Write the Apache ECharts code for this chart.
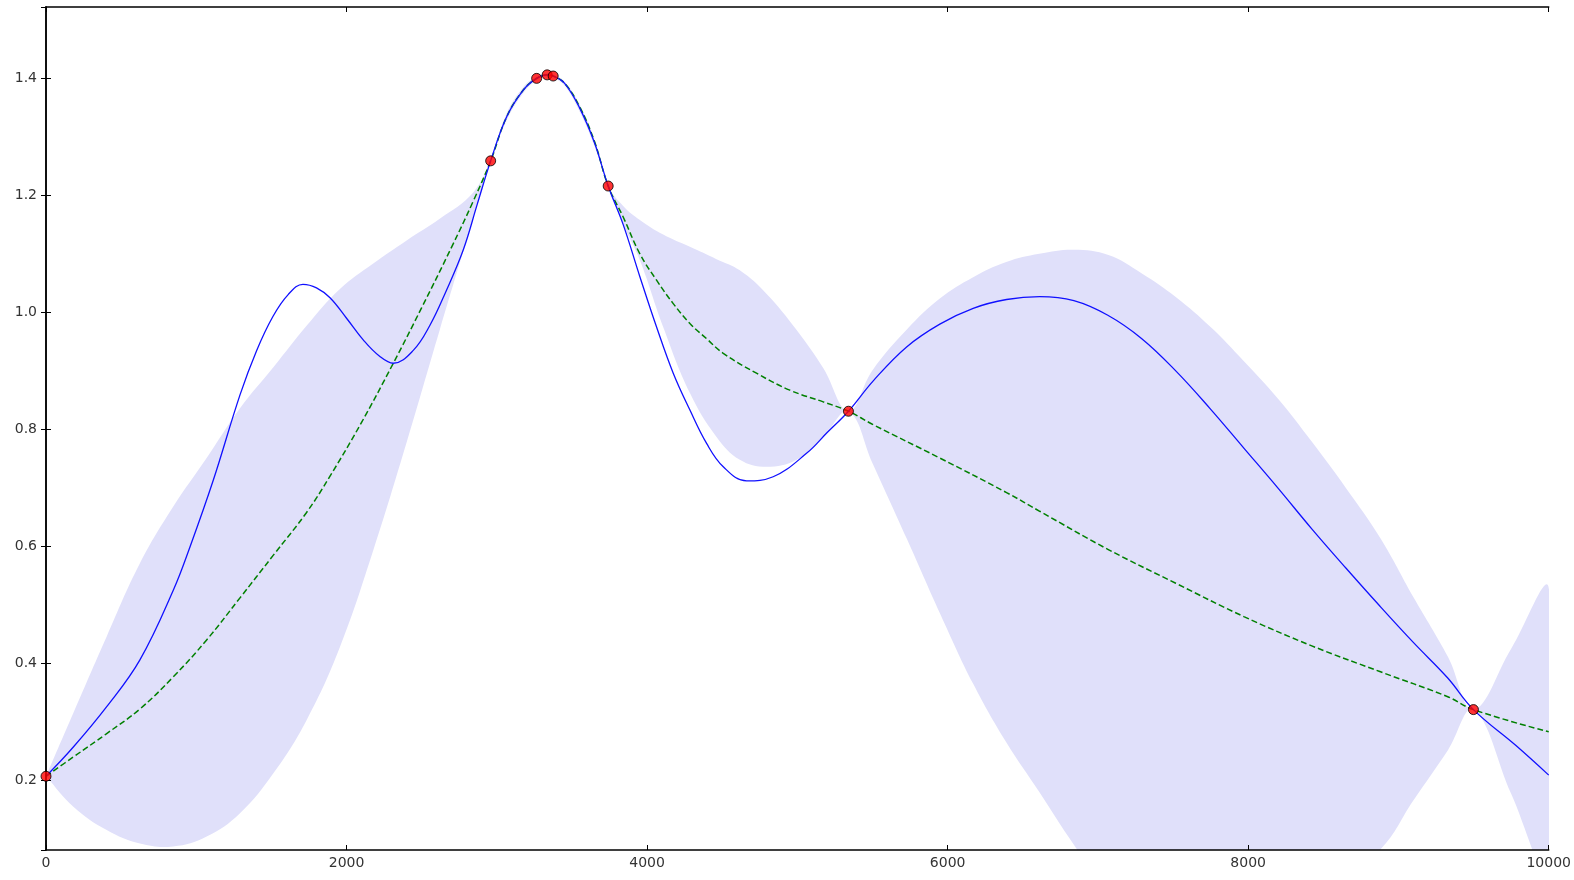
<!DOCTYPE html>
<html>
<head>
<meta charset="utf-8">
<script src="https://cdn.jsdelivr.net/npm/echarts@6/dist/echarts.min.js"></script>
<style>
  html, body { margin: 0; padding: 0; background: #fff; }
  #chart { width: 1574px; height: 880px; }
</style>
</head>
<body>
<div id="chart"></div>
<script>
// Observations (red points)
const obsX = [0, 2959, 3265, 3335, 3375, 3741, 5340, 9499];
const obsY = [0.207, 1.259, 1.400, 1.406, 1.404, 1.216, 0.831, 0.321];

// Blue curve (prediction mean)
const meanX = [0, 182, 404, 625, 847, 958, 1113, 1291, 1402, 1510, 1610, 1710, 1800, 1890, 2000, 2111, 2220, 2311,
  2444, 2555, 2660, 2777, 2870, 2959, 3065, 3176, 3265, 3335, 3375, 3450, 3550, 3650, 3741, 3841, 3952, 4063, 4174,
  4285, 4396, 4507, 4662, 4839, 5061, 5200, 5340, 5505, 5727, 5948, 6170, 6392, 6613, 6840, 7066, 7292, 7518, 7745,
  7971, 8197, 8423, 8650, 8876, 9102, 9328, 9499, 9780, 10000];
const meanY = [0.207, 0.257, 0.326, 0.406, 0.525, 0.599, 0.713, 0.859, 0.935, 0.993, 1.030, 1.048, 1.042, 1.025, 0.990,
  0.953, 0.925, 0.913, 0.935, 0.978, 1.035, 1.107, 1.185, 1.259, 1.334, 1.380, 1.400, 1.406, 1.404, 1.392, 1.350, 1.290,
  1.216, 1.150, 1.061, 0.975, 0.896, 0.833, 0.776, 0.736, 0.712, 0.719, 0.759, 0.795, 0.831, 0.883, 0.941, 0.980, 1.007,
  1.022, 1.027, 1.020, 0.995, 0.955, 0.900, 0.836, 0.768, 0.700, 0.630, 0.563, 0.498, 0.435, 0.375, 0.321, 0.260, 0.209];

// Green dashed curve
const trendX = [0, 182, 404, 625, 847, 1069, 1291, 1513, 1734, 1890, 2100, 2311, 2500, 2700, 2843, 2959, 3065, 3176,
  3265, 3335, 3375, 3450, 3550, 3650, 3741, 3841, 3952, 4063, 4174, 4285, 4396, 4507, 4728, 4950, 5172, 5340, 5505,
  5948, 6392, 6613, 7066, 7518, 7971, 8423, 8876, 9328, 9499, 10000];
const trendY = [0.207, 0.240, 0.280, 0.322, 0.377, 0.440, 0.512, 0.585, 0.658, 0.720, 0.812, 0.913, 1.008, 1.112, 1.190,
  1.259, 1.334, 1.380, 1.400, 1.406, 1.404, 1.392, 1.352, 1.292, 1.216, 1.163, 1.100, 1.055, 1.015, 0.981, 0.955, 0.930,
  0.896, 0.867, 0.847, 0.831, 0.808, 0.751, 0.692, 0.660, 0.595, 0.537, 0.480, 0.430, 0.386, 0.343, 0.321, 0.283];

// Confidence band
const bandX = [0, 182, 404, 625, 847, 1069, 1291, 1513, 1734, 1956, 2180, 2400, 2620, 2843, 2959, 3065, 3176, 3265,
  3335, 3375, 3450, 3550, 3650, 3741, 3841, 3952, 4107, 4285, 4462, 4617, 4794, 4995, 5172, 5340, 5500, 5730, 5950,
  6170, 6390, 6610, 6840, 7070, 7290, 7520, 7750, 7970, 8200, 8420, 8650, 8880, 9100, 9330, 9499, 9750, 10000];
const bandUpper = [0.207, 0.315, 0.446, 0.571, 0.668, 0.751, 0.836, 0.906, 0.977, 1.040, 1.084, 1.123, 1.160, 1.205,
  1.262, 1.340, 1.385, 1.403, 1.409, 1.407, 1.395, 1.356, 1.296, 1.217, 1.182, 1.158, 1.133, 1.112, 1.091, 1.072, 1.032,
  0.970, 0.905, 0.831, 0.901, 0.971, 1.024, 1.060, 1.086, 1.100, 1.107, 1.098, 1.067, 1.026, 0.975, 0.917, 0.852, 0.780,
  0.700, 0.614, 0.513, 0.411, 0.321, 0.425, 0.529];
const bandLower = [0.207, 0.155, 0.115, 0.092, 0.087, 0.104, 0.144, 0.212, 0.303, 0.428, 0.595, 0.778, 0.970, 1.160,
  1.256, 1.328, 1.375, 1.397, 1.403, 1.401, 1.388, 1.344, 1.284, 1.215, 1.150, 1.089, 0.975, 0.862, 0.787, 0.748, 0.736,
  0.748, 0.787, 0.831, 0.742, 0.612, 0.485, 0.365, 0.265, 0.180, 0.090, 0.010, 0.0, 0.0, 0.0, 0.0, 0.0, 0.010, 0.045,
  0.082, 0.166, 0.252, 0.321, 0.177, 0.036];

const zip = (xs, ys) => xs.map((x, i) => [x, ys[i]]);

const chart = echarts.init(document.getElementById('chart'), null, { renderer: 'canvas' });
const frame = { show: true, lineStyle: { color: '#000', width: 1.5 } };
const tickIn = { show: true, inside: true, length: 5, lineStyle: { color: '#000', width: 1 } };
const labelFont = { fontFamily: 'DejaVu Sans', fontSize: 14, color: '#333' };

chart.setOption({
  animation: false,
  backgroundColor: '#fff',
  grid: { left: 46, right: 25, top: 7, bottom: 30, containLabel: false },
  xAxis: [
    { type: 'value', min: 0, max: 10000, interval: 2000, position: 'bottom', z: 10,
      axisLine: frame, axisTick: tickIn, splitLine: { show: false },
      axisLabel: Object.assign({ margin: 6, formatter: v => String(v) }, labelFont) },
    { type: 'value', min: 0, max: 10000, interval: 2000, position: 'top', z: 10,
      axisLine: frame, axisTick: tickIn, splitLine: { show: false }, axisLabel: { show: false } }
  ],
  yAxis: [
    { type: 'value', min: 0.081, max: 1.522, splitNumber: 7, position: 'left', z: 10,
      axisLine: frame, axisTick: tickIn, splitLine: { show: false },
      axisLabel: Object.assign({ margin: 9, showMinLabel: false, showMaxLabel: false,
        formatter: v => v.toFixed(1) }, labelFont) },
    { type: 'value', min: 0.081, max: 1.522, splitNumber: 7, position: 'right', z: 10,
      axisLine: frame, axisTick: tickIn, splitLine: { show: false }, axisLabel: { show: false } }
  ],
  series: [
    { type: 'custom', coordinateSystem: 'cartesian2d', xAxisIndex: 0, yAxisIndex: 0,
      data: [0], clip: true, silent: true, z: 1,
      renderItem: function (params, api) {
        const up = bandX.map((x, i) => api.coord([x, bandUpper[i]]));
        const lo = bandX.map((x, i) => api.coord([x, bandLower[i]])).reverse();
        return { type: 'polygon', shape: { points: up.concat(lo), smooth: 0.4 },
                 style: { fill: 'rgb(224,224,250)' } };
      } },
    { type: 'line', data: zip(trendX, trendY), symbol: 'none', smooth: 0.4, z: 3,
      lineStyle: { color: '#008000', width: 1.5, type: [6, 3] } },
    { type: 'line', data: zip(meanX, meanY), symbol: 'none', smooth: 0.4, z: 4,
      lineStyle: { color: '#1010ff', width: 1.3 } },
    { type: 'scatter', data: zip(obsX, obsY), symbol: 'circle', symbolSize: 10, z: 20,
      itemStyle: { color: '#ff0000', borderColor: '#000', borderWidth: 1 } }
  ]
});
</script>
</body>
</html>
